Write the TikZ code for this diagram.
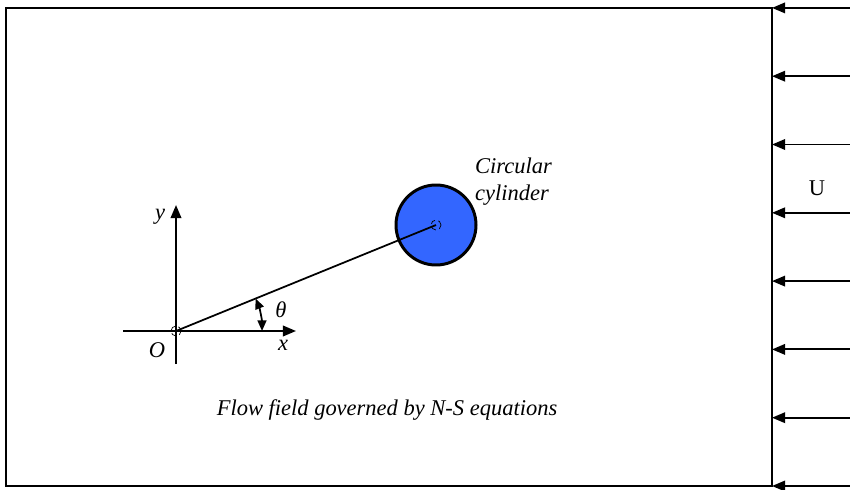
\documentclass[tikz,border=0pt]{standalone}
\usepackage{fontspec}
\setmainfont{Liberation Serif}
\usepackage{tikz}
\usetikzlibrary{arrows.meta, positioning, calc}
\definecolor{cylblue}{RGB}{51, 102, 255}

\begin{document}
\begin{tikzpicture}[font=\fontsize{12.8}{15.5}\selectfont,
  flowarrow/.style={-{Triangle[length=7.5pt, width=6pt]}, line width=1.1pt},
  axisarrow/.style={-{Triangle[length=7.5pt, width=6pt]}, line width=1.2pt}]
  \useasboundingbox (0,0) rectangle (17,9.78);
  % domain box
  \draw[line width=1pt] (15.44,9.62) -- (0.12,9.62) -- (0.12,0.06) -- (15.44,0.06) -- cycle;
  % incoming flow
  \foreach \i in {0,...,7} {
    \coordinate (in\i) at (17, 0.06+\i*1.366);
    \coordinate (wall\i) at (15.44, 0.06+\i*1.366);
    \draw[flowarrow] (in\i) -- (wall\i);
  }
  \node (U) at (16.34,6.02) {U};
  % axes
  \coordinate (O) at (3.52,3.16);
  \coordinate (ybot) at (3.52,2.50);
  \coordinate (ytop) at (3.52,5.68);
  \coordinate (xleft) at (2.46,3.16);
  \coordinate (xright) at (5.92,3.16);
  \draw[axisarrow] (ybot) -- (ytop);
  \draw[axisarrow] (xleft) -- (xright);
  \draw[densely dashed, line width=0.4pt] (O) circle (0.1);
  \node (ylab) at (3.2,5.44) {\textit{y}};
  \node (xlab) at (5.66,2.88) {\textit{x}};
  \node (Olab) at (3.14,2.78) {\textit{O}};
  % cylinder
  \node[circle, draw, line width=1.7pt, fill=cylblue, minimum size=1.6cm, inner sep=0pt] (cyl) at (8.72,5.28) {};
  \draw[densely dashed, line width=0.4pt] (cyl.center) circle (0.1);
  \draw[line width=1pt] (O) -- (cyl.center);
  \node[align=left] (cyllab) at (10.27,6.15) {\textit{Circular}\\\textit{cylinder}};
  % angle
  \draw[{Triangle[length=6pt, width=5pt]}-{Triangle[length=6pt, width=5pt]}, line width=1pt]
       ($(O)+(0:1.72)$) arc[start angle=0, end angle=22.2, radius=1.72];
  \node (theta) at (5.62,3.58) {\textit{θ}};
  \node (eqlab) at (7.74,1.58) {\textit{Flow field governed by N-S equations}};
\end{tikzpicture}
\end{document}
